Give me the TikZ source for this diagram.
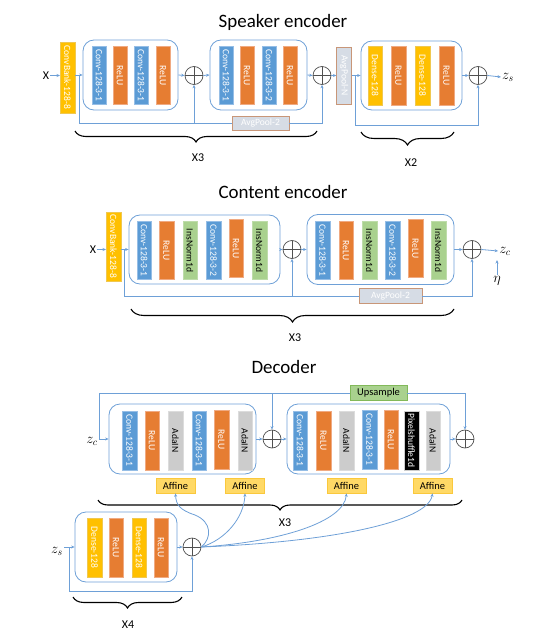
\documentclass[tikz,border=0pt]{standalone}
\usepackage{fontspec}
\setmainfont{Carlito}
\usepackage{graphicx}
\usetikzlibrary{arrows.meta,decorations.pathreplacing}
\definecolor{cblue}{RGB}{91,155,213}
\definecolor{cblueb}{RGB}{150,190,230}
\definecolor{corange}{RGB}{230,125,50}
\definecolor{coranb}{RGB}{240,170,130}
\definecolor{cyellow}{RGB}{255,192,0}
\definecolor{cyelb}{RGB}{240,200,80}
\definecolor{cgreen}{RGB}{169,209,142}
\definecolor{cgreenb}{RGB}{190,220,170}
\definecolor{cgray}{RGB}{204,204,204}
\definecolor{cgrayb}{RGB}{220,220,220}
\definecolor{apfill}{RGB}{214,220,229}
\definecolor{apbrd}{RGB}{200,150,120}
\definecolor{affill}{RGB}{255,217,102}
\definecolor{afbrd}{RGB}{250,200,60}
\definecolor{upbrd}{RGB}{130,185,90}
\definecolor{lblue}{RGB}{110,160,215}
\definecolor{pgray}{RGB}{80,80,80}
\newcommand\vtext[1]{\rotatebox{-90}{#1}}
\begin{document}
\begin{tikzpicture}[x=1bp,y=-1bp,
  title/.style={font=\fontsize{19}{22}\selectfont, inner sep=0pt},
  lbl/.style={font=\fontsize{12}{14}\selectfont, inner sep=1pt},
  mlbl/.style={font=\fontsize{14}{16}\selectfont, inner sep=1pt},
  xl/.style={font=\fontsize{12}{14}\selectfont, inner sep=0pt},
  blk/.style={draw=lblue, line width=0.8bp, rounded corners=11bp, inner sep=0pt},
  lay/.style={minimum width=14.5bp, minimum height=58bp, inner sep=0pt, line width=0.5bp,
     font=\fontsize{9.6}{11}\selectfont},
  conv/.style={fill=cblue, draw=cblueb, text=white},
  relu/.style={fill=corange, draw=coranb, text=white},
  dense/.style={fill=cyellow, draw=cyelb, text=white},
  insn/.style={fill=cgreen, draw=cgreenb, text=black},
  adain/.style={fill=cgray, draw=cgrayb, text=black},
  pixs/.style={fill=black, draw=cgray, text=white},
  apool/.style={fill=apfill, draw=apbrd, line width=0.7bp, text=white, inner sep=0pt,
     font=\fontsize{9.6}{11}\selectfont},
  affn/.style={fill=affill, draw=afbrd, line width=0.6bp, inner sep=0pt,
     minimum width=39bp, minimum height=15bp, font=\fontsize{10.5}{12}\selectfont},
  upsm/.style={fill=cgreen, draw=upbrd, line width=0.6bp, inner sep=0pt,
     minimum width=57bp, minimum height=15bp, font=\fontsize{10.5}{12}\selectfont},
  plus/.style={circle, draw=pgray, line width=0.7bp, minimum size=18bp, inner sep=0pt,
     path picture={\draw[pgray, line width=0.7bp]
       (path picture bounding box.north) -- (path picture bounding box.south)
       (path picture bounding box.west) -- (path picture bounding box.east);}},
  conn/.style={draw=lblue, line width=0.8bp},
  arr/.style={conn, -{Stealth[length=3.5bp,width=3bp]}},
  brc/.style={decorate, decoration={brace, mirror, amplitude=#1}, line width=1.1bp, draw=black}
]
\useasboundingbox (0,0) rectangle (541,638);

%% ---------------- Speaker encoder ----------------
\node[title] (t1) at (283,22) {Speaker encoder};
\node[lbl] (x1) at (46,75.5) {X};
\node[lay,dense,minimum height=71bp] (cb1) at (67.5,77.5) {\vtext{ConvBank-128-8}};
\node[blk,minimum width=95bp,minimum height=70bp] (b1) at (130.5,75) {};
\node[lay,conv] (s1a) at (99,75.5) {\vtext{Conv-128-3-1}};
\node[lay,relu] (s1b) at (120,75.5) {\vtext{ReLU}};
\node[lay,conv] (s1c) at (141,75.5) {\vtext{Conv-128-3-1}};
\node[lay,relu] (s1d) at (163,75.5) {\vtext{ReLU}};
\node[plus] (p1) at (194,75.5) {};
\node[blk,minimum width=97bp,minimum height=70bp] (b2) at (258.5,75) {};
\node[lay,conv] (s2a) at (226,75.5) {\vtext{Conv-128-3-1}};
\node[lay,relu] (s2b) at (247,75.5) {\vtext{ReLU}};
\node[lay,conv] (s2c) at (269,75.5) {\vtext{Conv-128-3-2}};
\node[lay,relu] (s2d) at (290,75.5) {\vtext{ReLU}};
\node[plus] (p2) at (322,75.5) {};
\node[apool,minimum width=14.5bp,minimum height=57bp] (apN) at (344,75.5) {\vtext{AvgPool-N}};
\node[blk,minimum width=101bp,minimum height=69bp] (b3) at (411.5,75.5) {};
\node[lay,dense,minimum height=59bp] (s3a) at (375,75.5) {\vtext{Dense-128}};
\node[lay,relu,minimum height=59bp] (s3b) at (398.5,75.5) {\vtext{ReLU}};
\node[lay,dense,minimum height=59bp] (s3c) at (422.5,75.5) {\vtext{Dense-128}};
\node[lay,relu,minimum height=59bp] (s3d) at (446.5,75.5) {\vtext{ReLU}};
\node[plus] (p3) at (478,75.5) {};
\node[mlbl] (zs1) at (508,77) {$z_s$};
\node[apool,minimum width=57bp,minimum height=14bp] (ap2a) at (260.5,123) {AvgPool-2};

\draw[arr] (x1.east) -- (x1.east -| cb1.west);
\draw[arr] (cb1.east |- b1.west) -- (b1.west);
\draw[arr] (b1.east) -- (p1.west);
\draw[arr] (p1.east) -- (b2.west);
\draw[arr] (b2.east) -- (p2.west);
\draw[arr] (p2.east) -- (p2.east -| apN.west);
\draw[arr] (apN.east |- b3.west) -- (b3.west);
\draw[arr] (b3.east) -- (p3.west);
\draw[arr] (p3.east) -- (zs1.west);
\coordinate (k1) at (79,75.5);
\coordinate (k1b) at (79,123);
\draw[conn] (k1) -- (k1b) -- (ap2a.west);
\draw[arr] (ap2a.east) -| (p2.south);
\draw[arr] (k1b -| p1) -- (p1.south);
\coordinate (k2) at (355,75.5);
\coordinate (k2b) at (355,125);
\draw[arr] (k2) -- (k2b) -| (p3.south);
\draw[brc=11bp] (75,131) -- (317,131);
\node[xl] (n3a) at (198,158) {X3};
\draw[brc=13bp] (361,132) -- (454,132);
\node[xl] (n2a) at (411,163) {X2};

%% ---------------- Content encoder ----------------
\node[title] (t2) at (283,192) {Content encoder};
\node[lbl] (x2) at (93,249.5) {X};
\node[lay,dense,minimum height=69bp] (cb2) at (113.5,246.5) {\vtext{ConvBank-128-8}};
\node[blk,minimum width=151bp,minimum height=69bp] (b4) at (204.5,249.5) {};
\node[lay,conv] (c1a) at (144,250.5) {\vtext{Conv-128-3-1}};
\node[lay,relu] (c1b) at (166.5,250.5) {\vtext{ReLU}};
\node[lay,insn] (c1c) at (190,250.5) {\vtext{InsNorm1d}};
\node[lay,conv] (c1d) at (213.5,250.5) {\vtext{Conv-128-3-2}};
\node[lay,relu] (c1e) at (236,248.5) {\vtext{ReLU}};
\node[lay,insn] (c1f) at (259.5,250.5) {\vtext{InsNorm1d}};
\node[plus] (p4) at (292,249.5) {};
\node[blk,minimum width=147bp,minimum height=70bp] (b5) at (380.5,249.5) {};
\node[lay,conv] (c2a) at (322.5,250.5) {\vtext{Conv-128-3-1}};
\node[lay,relu] (c2b) at (346,250.5) {\vtext{ReLU}};
\node[lay,insn] (c2c) at (369.5,250.5) {\vtext{InsNorm1d}};
\node[lay,conv] (c2d) at (392.5,250.5) {\vtext{Conv-128-3-2}};
\node[lay,relu] (c2e) at (415.5,248.5) {\vtext{ReLU}};
\node[lay,insn] (c2f) at (438.5,250.5) {\vtext{InsNorm1d}};
\node[plus] (p5) at (472,249.5) {};
\node[mlbl] (zc1) at (505,251) {$z_c$};
\node[mlbl] (eta) at (497,281) {$\eta$};
\node[apool,minimum width=63bp,minimum height=15bp] (ap2b) at (390.5,296) {AvgPool-2};

\draw[arr] (x2.east) -- (x2.east -| cb2.west);
\draw[arr] (cb2.east |- b4.west) -- (b4.west);
\draw[arr] (b4.east) -- (p4.west);
\draw[arr] (p4.east) -- (b5.west);
\draw[arr] (b5.east) -- (p5.west);
\draw[arr] (p5.east) -- (zc1.west);
\coordinate (etatop) at (497,260);
\draw[arr] (eta.north) -- (etatop);
\coordinate (k3) at (124,249.5);
\coordinate (k3b) at (124,296);
\draw[conn] (k3) -- (k3b) -- (ap2b.west);
\draw[arr] (ap2b.east) -| (p5.south);
\draw[arr] (k3b -| p4) -- (p4.south);
\draw[brc=13bp] (131,309) -- (454,309);
\node[xl] (n3b) at (295,338) {X3};

%% ---------------- Decoder ----------------
\node[title] (t3) at (284,367) {Decoder};
\node[mlbl] (zc2) at (92,441) {$z_c$};
\node[blk,minimum width=147bp,minimum height=70bp] (b6) at (182.5,439) {};
\node[lay,conv,minimum height=59bp] (d1a) at (129.5,440.5) {\vtext{Conv-128-3-1}};
\node[lay,relu,minimum height=59bp] (d1b) at (152,440.5) {\vtext{ReLU}};
\node[lay,adain,minimum height=59bp] (d1c) at (175.5,440.5) {\vtext{AdaIN}};
\node[lay,conv,minimum height=59bp] (d1d) at (199,440.5) {\vtext{Conv-128-3-1}};
\node[lay,relu,minimum height=59bp] (d1e) at (221.5,439.5) {\vtext{ReLU}};
\node[lay,adain,minimum height=59bp] (d1f) at (245,440.5) {\vtext{AdaIN}};
\node[plus] (p6) at (272,439) {};
\node[blk,minimum width=163bp,minimum height=70bp] (b7) at (368.5,439) {};
\node[lay,conv,minimum height=59bp] (d2a) at (300,440.5) {\vtext{Conv-128-3-1}};
\node[lay,relu,minimum height=59bp] (d2b) at (323.5,440.5) {\vtext{ReLU}};
\node[lay,adain,minimum height=59bp] (d2c) at (346.5,440.5) {\vtext{AdaIN}};
\node[lay,conv,minimum height=59bp] (d2d) at (369.5,439.5) {\vtext{Conv-128-3-1}};
\node[lay,relu,minimum height=59bp] (d2e) at (391,439.5) {\vtext{ReLU}};
\node[lay,pixs,minimum height=59bp] (d2f) at (411.5,440.5) {\vtext{Pixelshuffle1d}};
\node[lay,adain,minimum height=59bp] (d2g) at (433,440.5) {\vtext{AdaIN}};
\node[plus] (p7) at (465,439) {};
\node[upsm] (up) at (378.5,393) {Upsample};
\node[affn] (af1) at (175.5,485.5) {Affine};
\node[affn] (af2) at (245,485.5) {Affine};
\node[affn] (af3) at (346.5,485.5) {Affine};
\node[affn] (af4) at (432.5,485.5) {Affine};

\draw[arr] (zc2.east |- b6.west) -- (b6.west);
\draw[arr] (b6.east) -- (p6.west);
\draw[arr] (p6.east) -- (b7.west);
\draw[arr] (b7.east) -- (p7.west);
\coordinate (k4) at (99,439);
\coordinate (k4t) at (99,393);
\draw[conn] (k4) -- (k4t) -- (up.west);
\draw[arr] (k4t -| p6) -- (p6.north);
\draw[arr] (up.east) -| (p7.north);
\draw[brc=10bp] (98,500) -- (462,500);
\node[xl] (n3c) at (285,523) {X3};

\node[mlbl] (zs2) at (57,551) {$z_s$};
\node[blk,minimum width=102bp,minimum height=70bp] (b8) at (126,547) {};
\node[lay,dense,minimum height=59bp] (e1a) at (94.5,547.5) {\vtext{Dense-128}};
\node[lay,relu,minimum height=59bp] (e1b) at (116,547.5) {\vtext{ReLU}};
\node[lay,dense,minimum height=59bp] (e1c) at (139,547.5) {\vtext{Dense-128}};
\node[lay,relu,minimum height=59bp] (e1d) at (161,547.5) {\vtext{ReLU}};
\node[plus] (p8) at (192,547) {};
\draw[arr] (zs2.east |- b8.west) -- (b8.west);
\draw[arr] (b8.east) -- (p8.west);
\coordinate (k5) at (69,547);
\coordinate (k5b) at (69,591);
\draw[arr] (k5) -- (k5b) -| (p8.south);
\draw[arr] (p8.east) .. controls (212,538) and (212,522) .. (195,515)
   .. controls (180,510) and (176,505) .. (af1.south);
\draw[arr] (p8.east) .. controls (225,540) and (244,518) .. (af2.south);
\draw[arr] (p8.east) .. controls (280,542) and (344,522) .. (af3.south);
\draw[arr] (p8.east) .. controls (330,542) and (428,522) .. (af4.south);
\draw[brc=11bp] (73,597) -- (182,597);
\node[xl] (n4) at (128,625) {X4};
\end{tikzpicture}
\end{document}
